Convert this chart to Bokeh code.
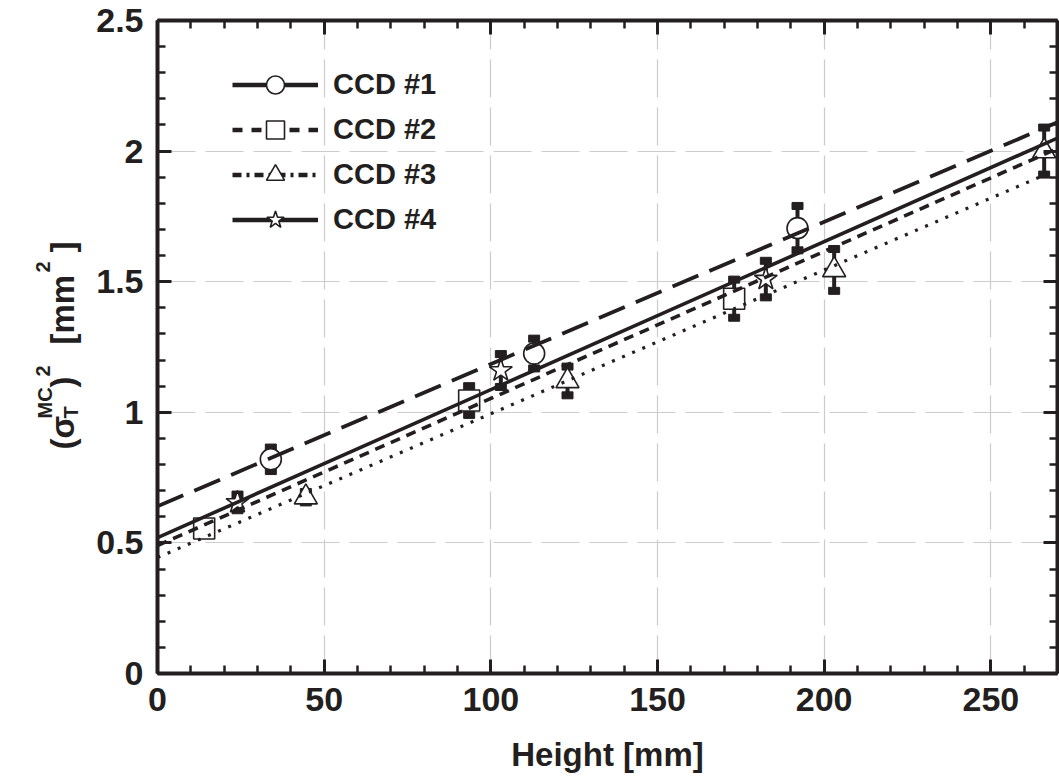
import numpy as np
from bokeh.plotting import figure
from bokeh.layouts import row
from bokeh.models import (Range1d, LinearAxis, Legend, LegendItem, Label,
                          SingleIntervalTicker)
from bokeh.embed import file_html
from bokeh.resources import INLINE

# ---------------- data ----------------
ccd1_x = [34, 113, 192]
ccd1_y = [0.82, 1.225, 1.705]
ccd1_err = [0.045, 0.057, 0.085]

ccd2_x = [14, 93.5, 173]
ccd2_y = [0.555, 1.045, 1.435]
ccd2_err = [0.02, 0.055, 0.073]

ccd3_x = [44.5, 123, 203, 266]
ccd3_y = [0.675, 1.12, 1.545, 2.0]
ccd3_err = [0.02, 0.055, 0.08, 0.09]

ccd4_x = [24, 103, 182.5]
ccd4_y = [0.655, 1.16, 1.51]
ccd4_err = [0.03, 0.063, 0.07]

fit_x = [0, 270]
fit_ccd1 = [0.64, 2.11]
fit_ccd2 = [0.49, 2.01]
fit_ccd3 = [0.444, 1.93]
fit_ccd4 = [0.52, 2.05]

series_labels = ["CCD #1", "CCD #2", "CCD #3", "CCD #4"]
x_tick_values = [0, 50, 100, 150, 200, 250]
x_tick_labels = ["0", "50", "100", "150", "200", "250"]
y_tick_values = [0, 0.5, 1, 1.5, 2, 2.5]
y_tick_labels = ["0", "0.5", "1", "1.5", "2", "2.5"]
x_title = "Height [mm]"

# ---------------- styling ----------------
INK = "#231f20"
FONT = "Liberation Sans"
W, H = 1059, 778
LW = 90                      # width of the strip that carries the y title
L, R, T, B = 157 - LW, 2, 20, 105
X0, X1, Y0, Y1 = 0, 270, 0, 2.5

p = figure(width=W - LW, height=H, x_range=Range1d(X0, X1),
           y_range=Range1d(Y0, Y1), output_backend="svg",
           toolbar_location=None, min_border_left=L, min_border_right=R,
           min_border_top=T, min_border_bottom=B)
p.outline_line_color = None
p.background_fill_color = "white"
p.border_fill_color = "white"

def style_axis(ax, show_labels):
    ax.axis_line_width = 4
    ax.axis_line_color = INK
    ax.major_tick_line_color = INK
    ax.minor_tick_line_color = INK
    ax.major_tick_line_width = 3
    ax.minor_tick_line_width = 2.5
    ax.major_tick_in = 14
    ax.major_tick_out = 0
    ax.minor_tick_in = 8
    ax.minor_tick_out = 0
    if show_labels:
        ax.major_label_text_font = FONT
        ax.major_label_text_font_style = "bold"
        ax.major_label_text_color = INK
        ax.major_label_text_font_size = "34px"
    else:
        ax.major_label_text_color = None
        ax.major_label_text_font_size = "1px"
        ax.major_label_standoff = 0

p.xaxis.ticker = SingleIntervalTicker(interval=50, num_minor_ticks=5)
p.yaxis.ticker = SingleIntervalTicker(interval=0.5, num_minor_ticks=5)
for ax in p.xaxis:
    style_axis(ax, True)
    ax.major_label_overrides = dict(zip(x_tick_values, x_tick_labels))
    ax.major_label_standoff = 14
    ax.axis_label = x_title
    ax.axis_label_text_font = FONT
    ax.axis_label_text_font_style = "bold"
    ax.axis_label_text_font_size = "33px"
    ax.axis_label_text_color = INK
    ax.axis_label_standoff = 22
for ax in p.yaxis:
    style_axis(ax, True)
    ax.major_label_overrides = dict(zip(y_tick_values, y_tick_labels))
    ax.major_label_standoff = 14

top_ax = LinearAxis(ticker=SingleIntervalTicker(interval=50, num_minor_ticks=5))
style_axis(top_ax, False)
p.add_layout(top_ax, "above")
right_ax = LinearAxis(ticker=SingleIntervalTicker(interval=0.5, num_minor_ticks=5))
style_axis(right_ax, False)
p.add_layout(right_ax, "right")

for g in (p.xgrid, p.ygrid):
    g.grid_line_color = "#cccccc"
    g.grid_line_width = 1.2
    g.grid_line_dash = "38 10"

# ---------------- error bars ----------------
def errorbars(xs, ys, es):
    lo = [y - e for y, e in zip(ys, es)]
    hi = [y + e for y, e in zip(ys, es)]
    p.segment(xs, lo, xs, hi, line_color=INK, line_width=4)
    p.rect(xs + xs, lo + hi, width=11, height=7, width_units="screen",
           height_units="screen", fill_color=INK, line_color=INK)

for xs, ys, es in [(ccd1_x, ccd1_y, ccd1_err), (ccd2_x, ccd2_y, ccd2_err),
                   (ccd3_x, ccd3_y, ccd3_err), (ccd4_x, ccd4_y, ccd4_err)]:
    errorbars(list(xs), list(ys), list(es))

# ---------------- markers ----------------
mk = dict(fill_color="white", line_color=INK, line_width=1.6)
p.scatter(ccd1_x, ccd1_y, marker="circle", size=21, **mk)
p.scatter(ccd2_x, ccd2_y, marker="square", size=21, **mk)
p.scatter(ccd3_x, ccd3_y, marker="triangle", size=23, **mk)
p.scatter(ccd4_x, ccd4_y, marker="star", size=24, **mk)

# ---------------- fit lines ----------------
p.line(fit_x, fit_ccd1, line_color=INK, line_width=3.8, line_dash="28 12")
p.line(fit_x, fit_ccd4, line_color=INK, line_width=3.6)
p.line(fit_x, fit_ccd2, line_color=INK, line_width=3.6, line_dash="10 7")
p.line(fit_x, fit_ccd3, line_color=INK, line_width=3.2, line_dash="3 8")

# ---------------- legend (proxy renderers hold no visible point) ----------------
leg_styles = [("solid", "circle"), ("10 9", "square"), ("9 5 3 5", "triangle"),
              ("solid", "star")]
items = []
for lab, (dash, marker) in zip(series_labels, leg_styles):
    lr = p.line([np.nan, np.nan], [np.nan, np.nan], line_color=INK,
                line_width=4.5, line_dash=dash)
    sr = p.scatter([np.nan], [np.nan], marker=marker, size=20, **mk)
    items.append(LegendItem(label=lab, renderers=[lr, sr]))
legend = Legend(items=items, location=(75, 431), glyph_width=86,
                glyph_height=45, label_height=45, spacing=0, padding=0,
                margin=0, label_standoff=15, border_line_color=None,
                background_fill_alpha=0, label_text_font=FONT,
                label_text_font_style="bold", label_text_font_size="29px",
                label_text_color=INK, label_text_baseline="middle")
p.add_layout(legend)

# ---------------- y title strip, built from pieces ----------------
# its frame is aligned with the main frame (screen rows T .. H-B),
# so the y range is set to read in screen rows directly
q = figure(width=LW, height=H, x_range=Range1d(0, LW),
           y_range=Range1d(H - B, T), output_backend="svg",
           toolbar_location=None, min_border=0)
q.axis.visible = False
q.grid.visible = False
q.outline_line_color = None
q.background_fill_color = "white"
q.border_fill_color = "white"

def piece(text, px, py, size):
    q.add_layout(Label(x=px, y=py, text=text, angle=np.pi / 2,
                       text_align="left", text_baseline="alphabetic",
                       text_font=FONT, text_font_style="bold",
                       text_font_size=size, text_color=INK))

base = 62
piece("(σ", base, 449, "33px")
piece("MC", base - 18, 418, "20px")
piece("T", base + 8, 418, "20px")
piece(")", base, 387, "33px")
piece("2", base - 20, 376, "20px")
piece("[mm", base, 344, "33px")
piece("2", base - 20, 272, "20px")
piece("]", base, 252, "33px")

layout = row(q, p, spacing=0)
open("out.html", "w").write(file_html(layout, INLINE))
